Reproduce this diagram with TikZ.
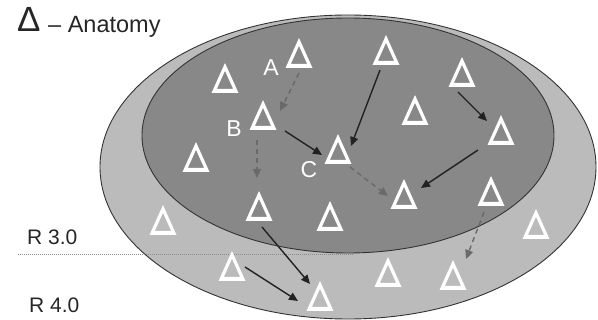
\documentclass[tikz,border=0pt]{standalone}
\usepackage{fontspec}
\setmainfont{Liberation Sans}
\usetikzlibrary{arrows.meta,calc}
\definecolor{ringgray}{HTML}{BBBBBB}
\definecolor{coregray}{HTML}{888888}
\definecolor{edgegray}{HTML}{333333}
\definecolor{arrowdark}{HTML}{222222}
\definecolor{arrowgray}{HTML}{6A6A6A}
\definecolor{dotgray}{HTML}{8A8A8A}
\begin{document}
\begin{tikzpicture}[x=1pt,y=-1pt,
  tri/.style={minimum width=27pt,minimum height=30pt,inner sep=0pt},
  solidarrow/.style={draw=arrowdark,line width=1.4pt,-{Triangle[length=9pt,width=8pt]}},
  dasharrow/.style={draw=arrowgray,line width=1.4pt,dash pattern=on 5pt off 4pt,-{Triangle[length=9pt,width=8pt]}},
  lbl/.style={text=white,font=\fontsize{23}{23}\selectfont,inner sep=0pt},
  rlabel/.style={anchor=base west,inner sep=0pt,text=black!85,font=\fontsize{21}{21}\selectfont},
  region/.style={draw=edgegray,line width=0.9pt}
]
\useasboundingbox (0,0) rectangle (598,320);

% regions: outer ring and inner core
\draw[region,fill=ringgray] (348,167) ellipse [x radius=248, y radius=152];
\draw[region,fill=coregray] (348,135.5) ellipse [x radius=206, y radius=117.5];

% level line
\coordinate (lvlA) at (18,254);
\coordinate (lvlB) at (353,254);
\draw[dotgray,line width=0.8pt,dash pattern=on 1pt off 1pt] (lvlA) -- (lvlB);

% legend
\node[anchor=base west,inner sep=0pt,text=black!85,font=\fontsize{35}{35}\selectfont] (delta) at (17,32) {Δ};
\node[anchor=base west,inner sep=0pt,text=black!85,font=\fontsize{23.5}{23.5}\selectfont] (title) at (48,33) {– Anatomy};
\node[rlabel] (r3) at (27,245) {R 3.0};
\node[rlabel] (r4) at (29,313) {R 4.0};

% triangle slots
\node[tri] (t1) at (225,78) {};
\node[tri] (t2) at (299,53) {};
\node[tri] (t3) at (386,50) {};
\node[tri] (t4) at (263,115) {};
\node[tri] (t5) at (196,157) {};
\node[tri] (t6) at (338,149) {};
\node[tri] (t7) at (462,72) {};
\node[tri] (t8) at (415,110) {};
\node[tri] (t9) at (501,130) {};
\node[tri] (t10) at (404,194) {};
\node[tri] (t11) at (491,191) {};
\node[tri] (t12) at (536,224) {};
\node[tri] (t13) at (163,220) {};
\node[tri] (t14) at (259,206) {};
\node[tri] (t15) at (330,216) {};
\node[tri] (t16) at (232,266) {};
\node[tri] (t17) at (320,296) {};
\node[tri] (t18) at (388,272) {};
\node[tri] (t19) at (453,275) {};

% hollow white triangles
\foreach \n in {t1,t2,t3,t4,t5,t6,t7,t8,t9,t10,t11,t12,t13,t14,t15,t16,t17,t18,t19}
  \fill[white,even odd rule,shift={(\n)}]
    (0,-15) -- (13.5,15) -- (-13.5,15) -- cycle
    (0,-7.2) -- (8.1,10.8) -- (-8.1,10.8) -- cycle;

% labels
\node[lbl] (la) at (271,68) {A};
\node[lbl] (lb) at (234,129) {B};
\node[lbl] (lc) at (309,170) {C};

% solid moves
\draw[solidarrow] ($(t4)+(22,16)$) -- ($(t6)+(-16,6)$);
\draw[solidarrow] ($(t3)+(-6,20)$) -- ($(t6)+(13,-3)$);
\draw[solidarrow] ($(t7)+(-4,20)$) -- ($(t9)+(-14,-9)$);
\draw[solidarrow] ($(t9)+(-23,20)$) -- ($(t10)+(17,-6)$);
\draw[solidarrow] ($(t14)+(3,21)$) -- ($(t17)+(-10,-12)$);
\draw[solidarrow] ($(t16)+(13,1)$) -- ($(t17)+(-22,5)$);

% dashed moves
\draw[dasharrow] ($(t2)+(0,20)$) -- ($(t4)+(17,-4)$);
\draw[dasharrow] ($(t4)+(-6,25)$) -- ($(t14)+(-2,-28)$);
\draw[dasharrow] ($(t6)+(12,18)$) -- ($(t10)+(-16,2)$);
\draw[dasharrow] ($(t11)+(-7,21)$) -- ($(t19)+(13,-16)$);
\end{tikzpicture}
\end{document}
